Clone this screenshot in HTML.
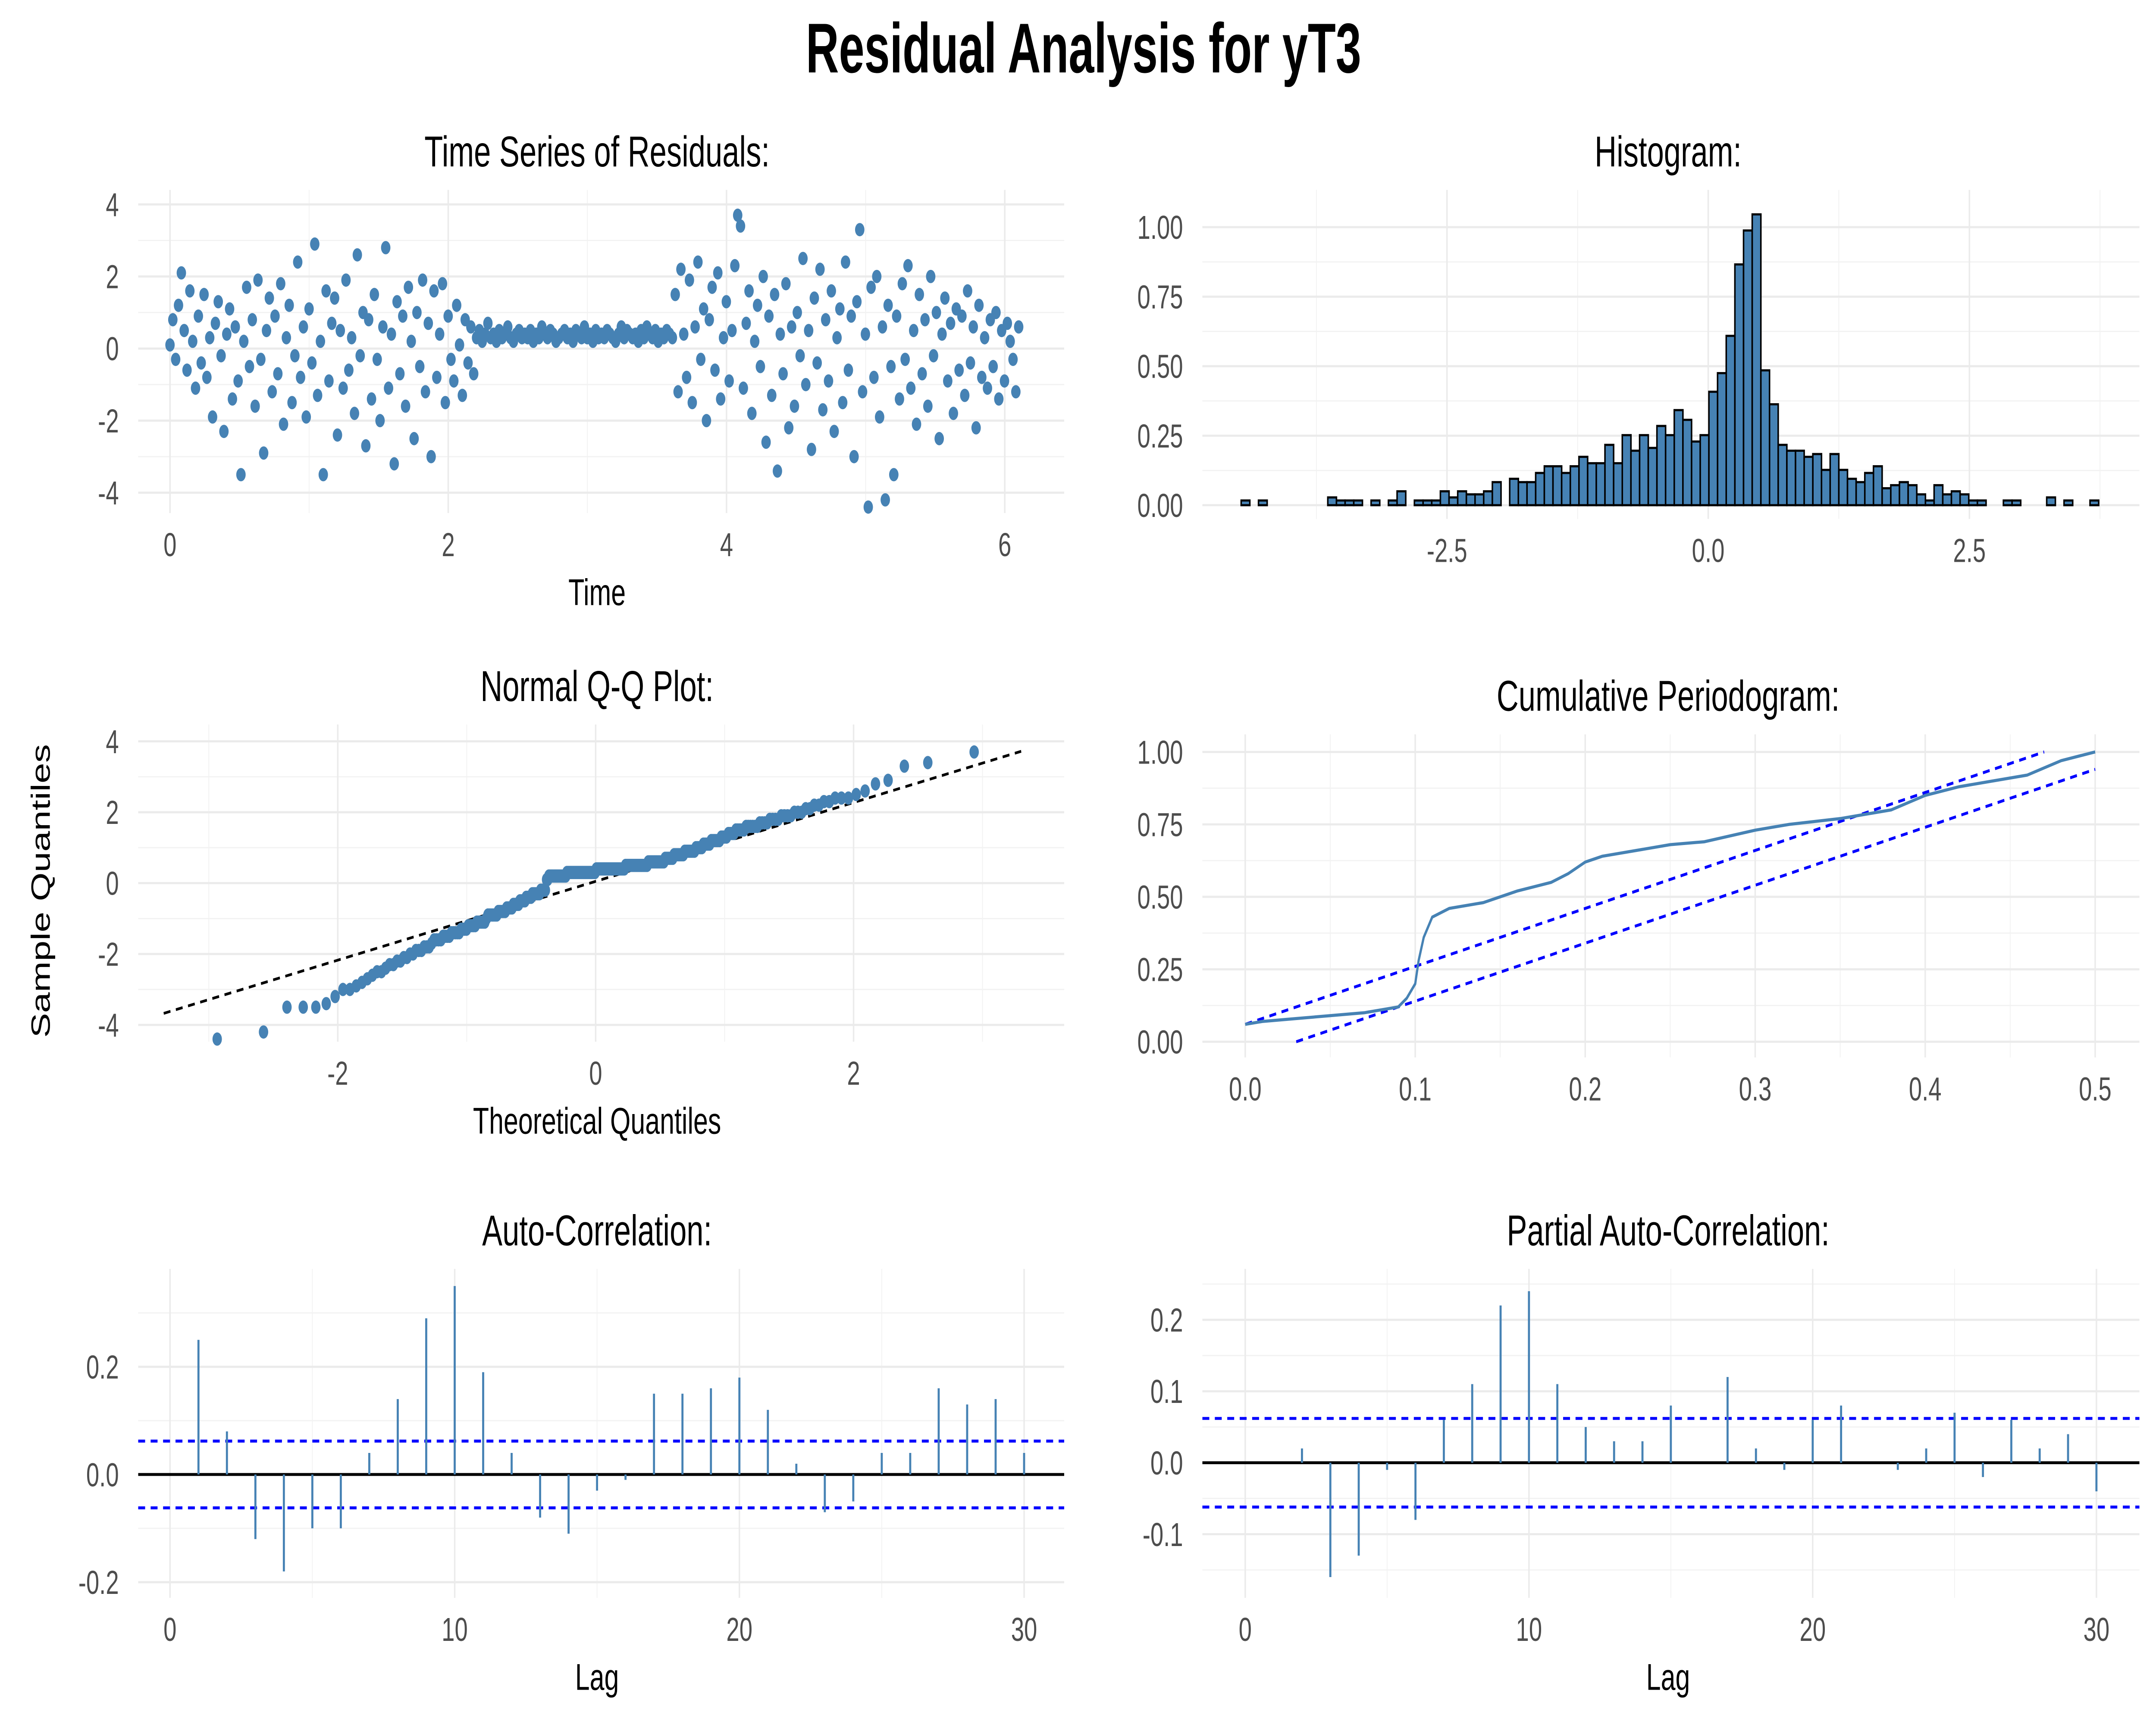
<!DOCTYPE html>
<html><head><meta charset="utf-8"><style>
html,body{margin:0;padding:0;background:#fff;width:100vw;height:100vh;overflow:hidden}
svg{display:block;width:100vw;height:100vh}
text{font-family:"Liberation Sans",sans-serif}
</style></head><body>
<svg id="fig" viewBox="0 0 1560 884" preserveAspectRatio="none" xmlns="http://www.w3.org/2000/svg">
<rect width="1560" height="884" fill="#fff"/>
<text x="784" y="37" text-anchor="middle" font-size="36" font-weight="bold" style="font-family:'Liberation Sans Narrow','Liberation Sans',sans-serif" transform="translate(784,0) scale(0.92,1) translate(-784,0)">Residual Analysis for  yT3</text>
<g id="layer"></g>
</svg>
<script>
// ---------- data ----------
const residuals = [
0.1,0.8,-0.3,1.2,2.1,0.5,-0.6,1.6,0.2,-1.1,
0.9,-0.4,1.5,-0.8,0.3,-1.9,0.7,1.3,-0.2,-2.3,
0.4,1.1,-1.4,0.6,-0.9,-3.5,0.2,1.7,-0.5,0.8,
-1.6,1.9,-0.3,-2.9,0.5,1.4,-1.2,0.9,-0.7,1.8,
-2.1,0.3,1.2,-1.5,-0.2,2.4,-0.8,0.6,-1.9,1.1,
-0.4,2.9,-1.3,0.2,-3.5,1.6,-0.9,0.7,1.4,-2.4,
0.5,-1.1,1.9,-0.6,0.3,-1.8,2.6,-0.2,1.0,-2.7,
0.8,-1.4,1.5,-0.3,-2.0,0.6,2.8,-1.1,0.4,-3.2,
1.3,-0.7,0.9,-1.6,1.7,0.2,-2.5,1.0,-0.5,1.9,
-1.2,0.7,-3.0,1.6,-0.8,0.4,1.8,-1.5,0.9,-0.3,
-0.9,1.2,0.1,-1.3,0.8,-0.4,0.6,-0.7,
0.3,0.5,0.2,0.4,0.7,0.3,0.4,0.2,0.5,0.3,
0.4,0.6,0.3,0.2,0.4,0.5,0.3,0.4,0.3,0.5,
0.2,0.4,0.3,0.6,0.4,0.3,0.5,0.4,0.2,0.3,
0.4,0.5,0.3,0.4,0.2,0.5,0.4,0.3,0.6,0.3,
0.4,0.2,0.5,0.3,0.4,0.3,0.5,0.4,0.3,0.2,
0.4,0.6,0.3,0.5,0.4,0.3,0.4,0.2,0.5,0.3,
0.6,0.4,0.3,0.5,0.2,0.4,0.3,0.5,0.4,0.3,
1.5,-1.2,2.2,0.4,-0.8,1.9,-1.5,0.6,2.4,-0.3,
1.1,-2.0,0.8,1.7,-0.6,2.1,-1.4,0.3,1.3,-0.9,
0.5,2.3,3.7,3.4,-1.1,0.7,1.6,-1.8,0.2,1.2,
-0.5,2.0,-2.6,0.9,-1.3,1.5,-3.4,0.4,-0.7,1.8,
-2.2,0.6,-1.6,1.0,-0.2,2.5,-1.0,0.5,-2.8,1.4,
-0.4,2.2,-1.7,0.8,-0.9,1.6,-2.3,0.3,1.1,-1.5,
2.4,-0.6,0.9,-3.0,1.3,3.3,-1.2,0.4,-4.4,1.7,
-0.8,2.0,-1.9,0.6,-4.2,1.2,-0.5,-3.5,0.9,-1.4,
1.8,-0.3,2.3,-1.1,0.5,-2.1,1.5,-0.7,0.8,-1.6,
2.0,-0.2,1.0,-2.5,0.4,1.4,-0.9,0.7,-1.8,1.1,
-0.6,0.9,-1.3,1.6,-0.4,0.6,-2.2,1.2,-0.8,0.3,
-1.1,0.8,-0.5,1.0,-1.4,0.5,-0.9,0.7,0.2,-0.3,
-1.2,0.6];
const timeEnd = 6.1;

const histStart = -4.47;
const histBinWidth = 0.0829;
const histHeights = [0.017,0,0.017,0,0,0,0,0,0,0,0.028,0.017,0.017,0.017,0,0.017,0,0.017,0.050,0,0.017,0.017,0.017,0.050,0.028,0.050,0.039,0.039,0.050,0.083,0,0.095,0.083,0.083,0.116,0.140,0.140,0.116,0.140,0.174,0.151,0.151,0.217,0.151,0.252,0.196,0.252,0.206,0.285,0.252,0.342,0.307,0.229,0.252,0.408,0.475,0.609,0.866,0.988,1.046,0.485,0.363,0.217,0.196,0.196,0.174,0.184,0.127,0.184,0.127,0.095,0.083,0.116,0.140,0.061,0.072,0.083,0.072,0.039,0.017,0.072,0.039,0.050,0.039,0.017,0.017,0,0,0.017,0.017,0,0,0,0.028,0,0.017,0,0,0.017];

const cpFreq = [0,0.01,0.03,0.05,0.07,0.09,0.095,0.1,0.102,0.105,0.11,0.12,0.14,0.16,0.18,0.19,0.2,0.21,0.23,0.25,0.27,0.3,0.32,0.35,0.38,0.4,0.42,0.44,0.46,0.48,0.5];
const cpValues = [0.06,0.07,0.08,0.09,0.1,0.12,0.15,0.2,0.28,0.36,0.43,0.46,0.48,0.52,0.55,0.58,0.62,0.64,0.66,0.68,0.69,0.73,0.75,0.77,0.80,0.85,0.88,0.90,0.92,0.97,1.0];
const cpBand = 0.06;

const acfValues = [0.25,0.08,-0.12,-0.18,-0.10,-0.10,0.04,0.14,0.29,0.35,0.19,0.04,-0.08,-0.11,-0.03,-0.01,0.15,0.15,0.16,0.18,0.12,0.02,-0.07,-0.05,0.04,0.04,0.16,0.13,0.14,0.04];
const pacfValues = [0.0,0.02,-0.16,-0.13,-0.01,-0.08,0.06,0.11,0.22,0.24,0.11,0.05,0.03,0.03,0.08,0.0,0.12,0.02,-0.01,0.06,0.08,0.0,-0.01,0.02,0.07,-0.02,0.06,0.02,0.04,-0.04];
const ciBound = 0.062;

const tsXTicks = [0,2,4,6], tsYTicks = [-4,-2,0,2,4];
const histXTicks = [-2.5,0,2.5], histXLabels = ["-2.5","0.0","2.5"];
const unitYTicks = [0,0.25,0.5,0.75,1], unitYLabels = ["0.00","0.25","0.50","0.75","1.00"];
const qqXTicks = [-2,0,2];
const cpXTicks = [0,0.1,0.2,0.3,0.4,0.5], cpXLabels = ["0.0","0.1","0.2","0.3","0.4","0.5"];
const lagTicks = [0,10,20,30];
const acfYTicks = [-0.2,0,0.2], acfYLabels = ["-0.2","0.0","0.2"];
const pacfYTicks = [-0.1,0,0.1,0.2], pacfYLabels = ["-0.1","0.0","0.1","0.2"];

// ---------- helpers ----------
const NS = "http://www.w3.org/2000/svg";
const layer = document.getElementById('layer');
function mk(tag, attrs, parent){
  const e = document.createElementNS(NS, tag);
  for (const k in attrs) e.setAttribute(k, attrs[k]);
  (parent||layer).appendChild(e);
  return e;
}
function panel(o){
  const g = mk('g', {});
  
  
  const sx = v => o.x0 + v*o.kx, sy = v => o.y0 - v*o.ky;
  o.xMinor.forEach(v=>{ const l=mk('line',{x1:sx(v),x2:sx(v),y1:o.area[1],y2:o.area[3],stroke:'#f2f2f2','stroke-width':0.6},g);
     });
  o.yMinor.forEach(v=>{ const l=mk('line',{x1:o.area[0],x2:o.area[2],y1:sy(v),y2:sy(v),stroke:'#f2f2f2','stroke-width':0.6},g);
     });
  o.xTicks.forEach((v,i)=>{ const l=mk('line',{x1:sx(v),x2:sx(v),y1:o.area[1],y2:o.area[3],stroke:'#ebebeb','stroke-width':1.1},g);
     
    const t=mk('text',{x:sx(v),y:o.area[3]+22,'text-anchor':'middle','font-size':17,fill:'#4d4d4d'},g);
    t.textContent = o.xLabels ? o.xLabels[i] : String(v);
     });
  o.yTicks.forEach((v,i)=>{ const l=mk('line',{x1:o.area[0],x2:o.area[2],y1:sy(v),y2:sy(v),stroke:'#ebebeb','stroke-width':1.1},g);
     
    const t=mk('text',{x:o.area[0]-14,y:sy(v)+6,'text-anchor':'end','font-size':17,fill:'#4d4d4d'},g);
    t.textContent = o.yLabels ? o.yLabels[i] : String(v);
     });
  const tt = mk('text',{x:o.tx,y:o.area[1]-12,'text-anchor':'middle','font-size':22,fill:'#000'},g);
  tt.textContent = o.title;
   
  if (o.xTitle){ const t=mk('text',{x:o.tx,y:o.area[3]+47,'text-anchor':'middle','font-size':19,fill:'#000'},g);
    t.textContent=o.xTitle;  }
  return {g,sx,sy};
}
function qnorm(p){
  const a=[-39.69683028665376,220.9460984245205,-275.9285104469687,138.357751867269,-30.66479806614716,2.506628277459239];
  const b=[-54.47609879822406,161.5858368580409,-155.6989798598866,66.80131188771972,-13.28068155288572];
  const c=[-0.007784894002430293,-0.3223964580411365,-2.400758277161838,-2.549732539343734,4.374664141464968,2.938163982698783];
  const d=[0.007784695709041462,0.3224671290700398,2.445134137142996,3.754408661907416];
  const pl=0.02425;let q,r;
  if(p<pl){q=Math.sqrt(-2*Math.log(p));return (((((c[0]*q+c[1])*q+c[2])*q+c[3])*q+c[4])*q+c[5])/((((d[0]*q+d[1])*q+d[2])*q+d[3])*q+1);}
  if(p>1-pl){q=Math.sqrt(-2*Math.log(1-p));return -(((((c[0]*q+c[1])*q+c[2])*q+c[3])*q+c[4])*q+c[5])/((((d[0]*q+d[1])*q+d[2])*q+d[3])*q+1);}
  q=p-0.5;r=q*q;return (((((a[0]*r+a[1])*r+a[2])*r+a[3])*r+a[4])*r+a[5])*q/(((((b[0]*r+b[1])*r+b[2])*r+b[3])*r+b[4])*r+1);
}
const blue = '#4682b4';

// ---------- Time series ----------
{
  const P = panel({name:'time-series-panel',title:'Time Series of Residuals:',xTitle:'Time',tx:432,
    x0:123,kx:100.67,y0:178,ky:18.4,area:[100,97,770,262],
    xTicks:tsXTicks,yTicks:tsYTicks,xMinor:[1,3,5],yMinor:[-3,-1,1,3]});
  const n = residuals.length;
  residuals.forEach((v,i)=>{
    const c = mk('circle',{cx:P.sx(i*timeEnd/(n-1)),cy:P.sy(v),r:3.4,fill:blue},P.g);
    
    
  });
}
// ---------- Histogram ----------
{
  const P = panel({name:'histogram-panel',title:'Histogram:',tx:1207,
    x0:1236,kx:75.6,y0:258,ky:142,area:[870,97,1548,265],
    xTicks:histXTicks,xLabels:histXLabels,yTicks:unitYTicks,yLabels:unitYLabels,
    xMinor:[-3.75,-1.25,1.25,3.75],yMinor:[0.125,0.375,0.625,0.875]});
  histHeights.forEach((h,i)=>{
    const x0 = P.sx(histStart+i*histBinWidth), x1 = P.sx(histStart+(i+1)*histBinWidth);
    const r = mk('rect',{x:x0,y:P.sy(h),width:x1-x0,height:P.sy(0)-P.sy(h),fill:blue,stroke:'#000','stroke-width':1.1},P.g);
    
    
  });
}
// ---------- QQ ----------
{
  const P = panel({name:'qq-plot-panel',title:'Normal Q-Q Plot:',xTitle:'Theoretical Quantiles',tx:432,
    x0:431,kx:93.3,y0:451,ky:18.1,area:[100,370,770,532],
    xTicks:qqXTicks,yTicks:tsYTicks,xMinor:[-3,-1,1,3],yMinor:[-3,-1,1,3]});
  const yl = mk('text',{x:36,y:455,'text-anchor':'middle','font-size':19,transform:'rotate(-90 36 455)'},P.g);
  yl.textContent='Sample Quantiles';
   
  const s = residuals.slice().sort((a,b)=>a-b), n = s.length;
  const th = s.map((v,i)=>qnorm((i+0.5)/n));
  const q = p => { const h=(n-1)*p, lo=Math.floor(h); return s[lo]+(h-lo)*(s[lo+1]-s[lo]); };
  const slope = (q(0.75)-q(0.25))/(qnorm(0.75)-qnorm(0.25)), icpt = q(0.25)-slope*qnorm(0.25);
  const ln = mk('line',{x1:P.sx(-3.35),y1:P.sy(icpt-3.35*slope),x2:P.sx(3.3),y2:P.sy(icpt+3.3*slope),stroke:'#000','stroke-width':1.4,'stroke-dasharray':'5,4'},P.g);
   
  s.forEach((v,i)=>{
    const c = mk('circle',{cx:P.sx(th[i]),cy:P.sy(v),r:3.4,fill:blue},P.g);
    
    
  });
}
// ---------- Cumulative periodogram ----------
{
  const P = panel({name:'cumulative-periodogram-panel',title:'Cumulative Periodogram:',tx:1207,
    x0:901,kx:1230,y0:532,ky:148,area:[870,375,1548,540],
    xTicks:cpXTicks,xLabels:cpXLabels,yTicks:unitYTicks,yLabels:unitYLabels,
    xMinor:[0.05,0.15,0.25,0.35,0.45],yMinor:[0.125,0.375,0.625,0.875]});
  const up = mk('line',{x1:P.sx(0),y1:P.sy(cpBand),x2:P.sx((1-cpBand)/2),y2:P.sy(1),stroke:'#0000ff','stroke-width':1.5,'stroke-dasharray':'5,4'},P.g);
   
  const lo = mk('line',{x1:P.sx(cpBand/2),y1:P.sy(0),x2:P.sx(0.5),y2:P.sy(1-cpBand),stroke:'#0000ff','stroke-width':1.5,'stroke-dasharray':'5,4'},P.g);
   
  const pl = mk('polyline',{points:cpFreq.map((f,i)=>P.sx(f)+','+P.sy(cpValues[i])).join(' '),fill:'none',stroke:blue,'stroke-width':1.6},P.g);
   
}
// ---------- ACF / PACF ----------
function corrPanel(name,title,x0,kx,y0,ky,area,yt,ylab,ymin,vals,tx){
  const P = panel({name,title,xTitle:'Lag',tx,x0,kx,y0,ky,area,
    xTicks:lagTicks,yTicks:yt,yLabels:ylab,xMinor:[5,15,25],yMinor:ymin});
  [ciBound,-ciBound].forEach(b=>{
    const l = mk('line',{x1:area[0],x2:area[2],y1:P.sy(b),y2:P.sy(b),stroke:'#0000ff','stroke-width':1.5,'stroke-dasharray':'5,4'},P.g);
     
  });
  const z = mk('line',{x1:area[0],x2:area[2],y1:P.sy(0),y2:P.sy(0),stroke:'#000','stroke-width':1.5},P.g);
   
  vals.forEach((v,i)=>{
    const l = mk('line',{x1:P.sx(i+1),x2:P.sx(i+1),y1:P.sy(0),y2:P.sy(v),stroke:blue,'stroke-width':1.5},P.g);
     
  });
}
corrPanel('acf-panel','Auto-Correlation:',123,20.6,753,275,[100,648,770,816],acfYTicks,acfYLabels,[-0.1,0.1,0.3],acfValues,432);
corrPanel('pacf-panel','Partial Auto-Correlation:',901,20.53,747,365,[870,648,1548,816],pacfYTicks,pacfYLabels,[-0.15,-0.05,0.05,0.15,0.25],pacfValues,1207);
</script>
</body></html>
